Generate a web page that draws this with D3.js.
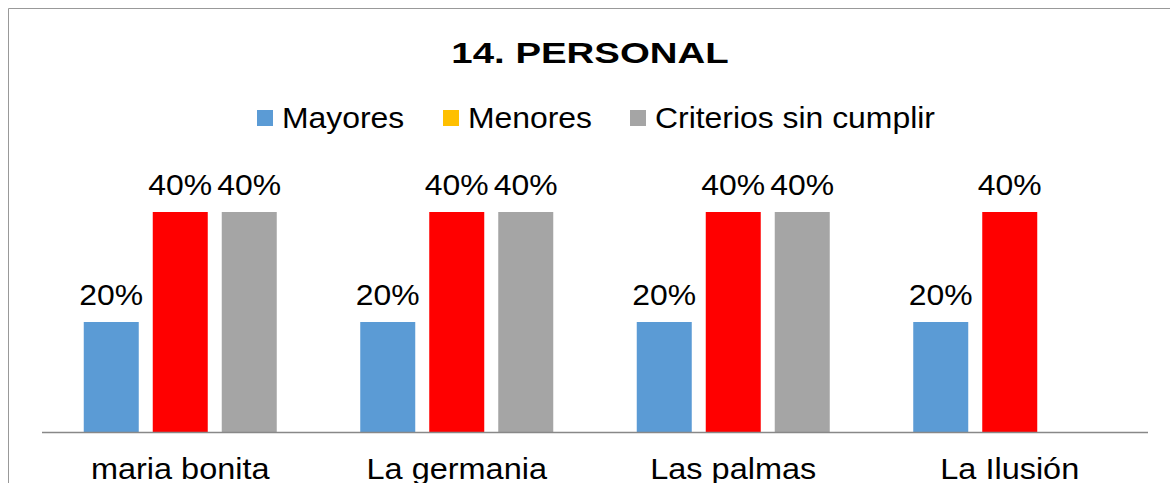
<!DOCTYPE html>
<html>
<head>
<meta charset="utf-8">
<script src="https://cdn.jsdelivr.net/npm/d3@7/dist/d3.min.js"></script>
<style>
  html, body { margin: 0; padding: 0; background: #fff; }
  svg { display: block; font-family: "Liberation Sans", Arial, sans-serif; }
</style>
</head>
<body>
<svg id="chart" width="1170" height="483"></svg>
<script>
const categories = ["maria bonita", "La germania", "Las palmas", "La Ilusión"];
const seriesNames = ["Mayores", "Menores", "Criterios sin cumplir"];
const mayores = [0.20, 0.20, 0.20, 0.20];
const menores = [0.40, 0.40, 0.40, 0.40];
const criterios = [0.40, 0.40, 0.40, null];
const barColors = ["#5B9BD5", "#FF0000", "#A5A5A5"];
const legendColors = ["#5B9BD5", "#FFC000", "#A5A5A5"];
const title = "14. PERSONAL";

const seriesValues = [mayores, menores, criterios];

const svg = d3.select("#chart");
const STRETCH = 1.10;

// place a text at (x,y) with a horizontal stretch
function place(sel, x, y, k) {
  sel.attr("transform", `translate(${x},${y}) scale(${k},1)`).attr("x", 0).attr("y", 0);
}

// frame
svg.append("path")
  .attr("d", "M8.5,483 L8.5,8.5 L1170,8.5")
  .attr("fill", "none")
  .attr("stroke", "#999")
  .attr("stroke-width", 1);

// title
svg.append("text")
  .attr("text-anchor", "middle")
  .attr("font-size", 30).attr("font-weight", "bold")
  .attr("fill", "#000")
  .text(title)
  .call(place, 590, 63, 1.28);

// legend
const legendX = [257, 443, 630];
const lg = svg.append("g");
seriesNames.forEach((name, i) => {
  lg.append("rect")
    .attr("x", legendX[i]).attr("y", 110)
    .attr("width", 16).attr("height", 16)
    .attr("fill", legendColors[i]);
  lg.append("text")
    .attr("font-size", 29).attr("fill", "#000")
    .text(name)
    .call(place, legendX[i] + 25, 128, STRETCH);
});

// scales
const x0 = d3.scaleBand().domain(categories).range([42, 1148]).paddingInner(0).paddingOuter(0);
const groupWidth = 193;
const x1 = d3.scaleBand().domain(seriesNames).range([0, groupWidth]).paddingInner(14 / 69).paddingOuter(0);
const y = d3.scaleLinear().domain([0, 0.5]).range([432, 157]);
const fmt = d3.format(".0%");

const rows = [];
categories.forEach((c, ci) => {
  seriesNames.forEach((s, si) => {
    const v = seriesValues[si][ci];
    if (v !== null && v !== undefined) rows.push({ c, s, si, v });
  });
});

const offset = (x0.bandwidth() - groupWidth) / 2;

svg.append("g").selectAll("rect")
  .data(rows).join("rect")
  .attr("x", d => x0(d.c) + offset + x1(d.s))
  .attr("y", d => y(d.v))
  .attr("width", x1.bandwidth())
  .attr("height", d => y(0) - y(d.v))
  .attr("fill", d => barColors[d.si]);

svg.append("g").selectAll("text")
  .data(rows).join("text")
  .attr("text-anchor", "middle")
  .attr("font-size", 29).attr("fill", "#000")
  .text(d => fmt(d.v))
  .each(function(d) {
    d3.select(this).call(place, x0(d.c) + offset + x1(d.s) + x1.bandwidth() / 2, y(d.v) - 17, STRETCH);
  });

// axis
const axis = svg.append("g").attr("transform", `translate(0,${y(0)})`)
  .call(d3.axisBottom(x0).tickSize(0).tickPadding(0));
axis.select(".domain").attr("stroke", "#888").attr("stroke-width", 1.5).attr("d", "M42,0.5H1148");
axis.selectAll(".tick text")
  .attr("font-size", 29)
  .attr("font-family", "Liberation Sans, Arial, sans-serif")
  .attr("fill", "#000")
  .attr("dy", null)
  .call(place, 0, 47, 1.12);
</script>
</body>
</html>
